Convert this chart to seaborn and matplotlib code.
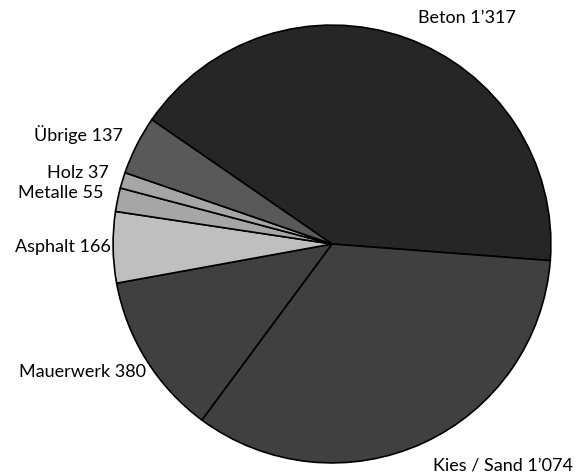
import matplotlib
matplotlib.use("Agg")
import matplotlib.pyplot as plt
import seaborn as sns

sns.set_theme(style="white")
plt.rcParams['font.family'] = ['Lato', 'DejaVu Sans']

categories = ["Beton", "Kies / Sand", "Mauerwerk", "Asphalt", "Metalle", "Holz", "Übrige"]
values = [1317, 1074, 380, 166, 55, 37, 137]
value_labels = ["1\u2019317", "1\u2019074", "380", "166", "55", "37", "137"]
colors = ["#262626", "#404040", "#404040", "#bfbfbf", "#a6a6a6", "#a6a6a6", "#595959"]

# label anchor positions (pie radius units) and alignment
label_pos = [(0.616, 1.032, "center"), (0.782, -1.014, "center"), (-0.85, -0.586, "right"),
             (-1.009, -0.014, "right"), (-1.045, 0.232, "right"), (-1.018, 0.323, "right"),
             (-0.955, 0.50, "right")]

fig = plt.figure(figsize=(5.8, 4.76), dpi=100)
ax = fig.add_axes([0.1931, 0.0252, 0.7586, 0.9244])

labels = [f"{c} {v}" for c, v in zip(categories, value_labels)]
wedges, texts = ax.pie(values, labels=labels, colors=colors, startangle=145.4,
                       counterclock=False, radius=1,
                       wedgeprops=dict(edgecolor="black", linewidth=1.2),
                       textprops=dict(fontsize=13, color="black"))

for t, (x, y, ha) in zip(texts, label_pos):
    t.set_position((x, y))
    t.set_ha(ha)
    t.set_va("center")
    t.set_clip_on(False)

ax.set_xlim(-1.005, 1.005)
ax.set_ylim(-1.005, 1.005)
ax.set_aspect("equal")
ax.axis("off")

fig.savefig("out.png", dpi=100, facecolor="white")
